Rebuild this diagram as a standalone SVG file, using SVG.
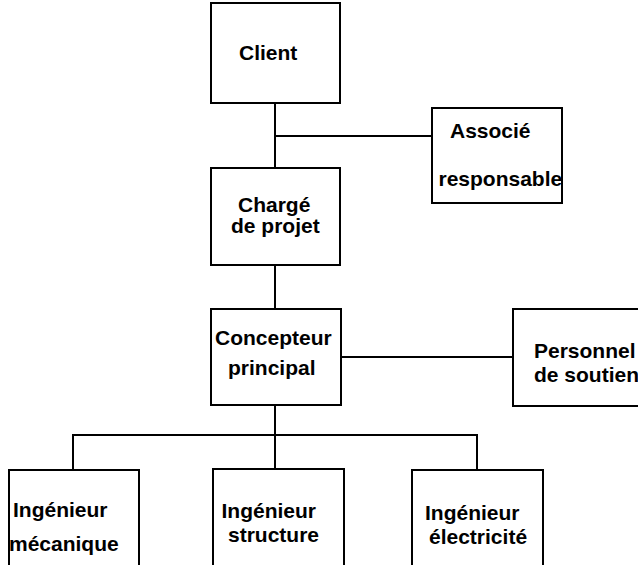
<svg xmlns="http://www.w3.org/2000/svg" width="638" height="565" viewBox="0 0 638 565">
<style>
.box{fill:#fff;stroke:#000;stroke-width:2}
.ln{fill:none;stroke:#000;stroke-width:2}
text{font-family:"Liberation Sans",Arial,sans-serif;font-weight:bold;font-size:21px;fill:#000}
</style>
<rect width="638" height="565" fill="#fff"/>
<g id="connectors">
<path class="ln" d="M275 103V168M275 136H432M275 265V309M341 357H513M275 405V469M73 470V435H477V470"/>
</g>
<g id="client"><rect class="box" x="211" y="3" width="129" height="100"/><text x="239" y="60">Client</text></g>
<g id="associe"><rect class="box" x="432" y="108" width="130" height="95"/><text x="450" y="138">Associé</text><text x="438.5" y="186">responsable</text></g>
<g id="charge"><rect class="box" x="211" y="168" width="129" height="97"/><text x="238" y="211.5">Chargé</text><text x="231" y="233">de projet</text></g>
<g id="concepteur"><rect class="box" x="211" y="309" width="130" height="96"/><text x="215" y="345">Concepteur</text><text x="228" y="375">principal</text></g>
<g id="personnel"><rect class="box" x="513" y="309" width="140" height="97"/><text x="534" y="358">Personnel</text><text x="534" y="382">de soutien</text></g>
<g id="ing-meca"><rect class="box" x="9" y="470" width="130" height="100"/><text x="13" y="517">Ingénieur</text><text x="9" y="551">mécanique</text></g>
<g id="ing-struct"><rect class="box" x="213" y="469" width="131" height="100"/><text x="221.5" y="518">Ingénieur</text><text x="228" y="542">structure</text></g>
<g id="ing-elec"><rect class="box" x="412" y="470" width="131" height="100"/><text x="425" y="520">Ingénieur</text><text x="429" y="544">électricité</text></g>
</svg>
